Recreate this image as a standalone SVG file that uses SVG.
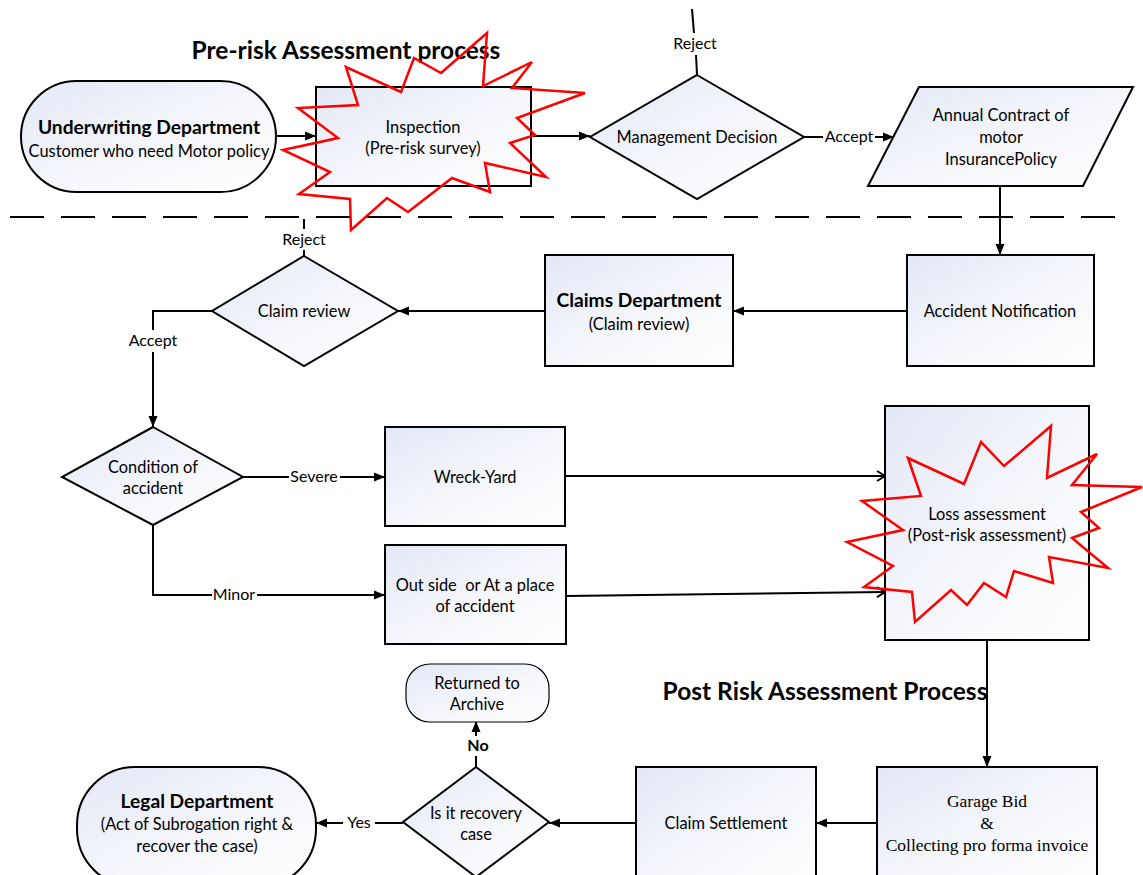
<svg xmlns="http://www.w3.org/2000/svg" width="1143" height="875" viewBox="0 0 1143 875">
  <defs>
    <linearGradient id="nodeFill" x1="0" y1="0" x2="1" y2="1">
      <stop offset="0" stop-color="#e3e8f5"/>
      <stop offset="0.6" stop-color="#f7f8fc"/>
      <stop offset="1" stop-color="#ffffff"/>
    </linearGradient>
    <marker id="arrow" markerUnits="userSpaceOnUse" markerWidth="12" markerHeight="10" refX="11" refY="5" orient="auto">
      <path d="M0,0.5 L11,5 L0,9.5 z" fill="#000"/>
    </marker>
    <marker id="openArrow" markerUnits="userSpaceOnUse" markerWidth="12" markerHeight="12" refX="10" refY="6" orient="auto">
      <path d="M2,1 L10,6 L2,11" fill="none" stroke="#000" stroke-width="2"/>
    </marker>
    <style>
      .shape { fill: url(#nodeFill); stroke: #000; stroke-width: 2; }
      .line { fill: none; stroke: #000; stroke-width: 2; }
      .star { fill: none; stroke: #ff0000; stroke-width: 2.5; stroke-linejoin: miter; }
      text { font-family: Lato, "Liberation Sans", sans-serif; font-size: 16.4px; fill: #000; text-anchor: middle; white-space: pre; }
      .bold { font-weight: bold; font-size: 19.2px; }
      .head { font-size: 24.5px; font-weight: bold; }
      .serif { font-family: "Liberation Serif", serif; font-size: 17.5px; }
      .lbl { font-size: 16px; }
      .lblb { font-size: 16px; font-weight: bold; }
    </style>
  </defs>
  <rect width="1143" height="875" fill="#fff"/>

  <!-- section divider -->
  <line x1="10" y1="217" x2="1118" y2="217" stroke="#000" stroke-width="2" stroke-dasharray="34 17"/>

  <!-- section headings -->
  <text class="head" x="346" y="59">Pre-risk Assessment process</text>
  <text class="head" x="825" y="700">Post Risk Assessment Process</text>

  <!-- connectors -->
  <g id="connectors">
    <line class="line" x1="276" y1="136" x2="316" y2="136" marker-end="url(#arrow)"/>
    <line class="line" x1="531" y1="136" x2="590" y2="136" marker-end="url(#arrow)"/>
    <!-- management decision: reject -->
    <line class="line" x1="692" y1="9" x2="694" y2="33"/>
    <line class="line" x1="696" y1="55" x2="697" y2="75"/>
    <text class="lbl" x="695" y="49">Reject</text>
    <!-- management decision: accept -->
    <line class="line" x1="804" y1="137" x2="823" y2="137"/>
    <line class="line" x1="875" y1="137" x2="894" y2="137" marker-end="url(#arrow)"/>
    <text class="lbl" x="849" y="142">Accept</text>
    <!-- policy to accident notification -->
    <line class="line" x1="1000" y1="186" x2="1000" y2="255" marker-end="url(#arrow)"/>
    <line class="line" x1="907" y1="311" x2="733" y2="311" marker-end="url(#arrow)"/>
    <line class="line" x1="545" y1="311" x2="398" y2="311" marker-end="url(#arrow)"/>
    <!-- claim review: reject -->
    <line class="line" x1="304" y1="219" x2="304" y2="229"/>
    <line class="line" x1="304" y1="250" x2="304" y2="256"/>
    <text class="lbl" x="304" y="245">Reject</text>
    <!-- claim review: accept -->
    <polyline class="line" points="212,311 153,311 153,330"/>
    <line class="line" x1="153" y1="352" x2="153" y2="427" marker-end="url(#arrow)"/>
    <text class="lbl" x="153" y="346">Accept</text>
    <!-- condition: severe / minor -->
    <line class="line" x1="243" y1="477" x2="289" y2="477"/>
    <line class="line" x1="340" y1="477" x2="385" y2="477" marker-end="url(#arrow)"/>
    <text class="lbl" x="314" y="482">Severe</text>
    <polyline class="line" points="153,525 153,595 212,595"/>
    <line class="line" x1="257" y1="595" x2="385" y2="595" marker-end="url(#arrow)"/>
    <text class="lbl" x="234" y="600">Minor</text>
    <!-- into loss assessment -->
    <line class="line" x1="565" y1="476" x2="885" y2="476" marker-end="url(#openArrow)"/>
    <line class="line" x1="566" y1="596" x2="885" y2="592" marker-end="url(#openArrow)"/>
    <line class="line" x1="987" y1="640" x2="987" y2="767" marker-end="url(#arrow)"/>
    <line class="line" x1="877" y1="823" x2="816" y2="823" marker-end="url(#arrow)"/>
    <line class="line" x1="636" y1="823" x2="549" y2="823" marker-end="url(#arrow)"/>
    <!-- recovery: no -->
    <line class="line" x1="476" y1="767" x2="476" y2="756"/>
    <line class="line" x1="476" y1="736" x2="476" y2="721" marker-end="url(#arrow)"/>
    <text class="lblb" x="478" y="751">No</text>
    <!-- recovery: yes -->
    <line class="line" x1="403" y1="823" x2="375" y2="823"/>
    <line class="line" x1="343" y1="823" x2="316" y2="823" marker-end="url(#arrow)"/>
    <text class="lbl" x="359" y="828">Yes</text>
  </g>

  <g id="underwriting">
    <rect class="shape" x="21" y="81" width="255" height="111" rx="55.5" ry="55.5"/>
    <text class="bold" x="149" y="134">Underwriting Department</text>
    <text x="149" y="157">Customer who need Motor policy</text>
  </g>

  <g id="inspection">
    <rect class="shape" x="316" y="87" width="215" height="99"/>
    <text x="423" y="133">Inspection</text>
    <text x="423" y="154">(Pre-risk survey)</text>
  </g>

  <g id="management-decision">
    <polygon class="shape" points="697,75 804,137 697,199 590,137"/>
    <text x="697" y="143">Management Decision</text>
  </g>

  <g id="annual-contract">
    <polygon class="shape" points="919,87 1133,87 1083,186 868,186"/>
    <text x="1001" y="121">Annual Contract of</text>
    <text x="1001" y="143">motor</text>
    <text x="1001" y="165">InsurancePolicy</text>
  </g>

  <g id="accident-notification">
    <rect class="shape" x="907" y="255" width="187" height="111"/>
    <text x="1000" y="317">Accident Notification</text>
  </g>

  <g id="claims-department">
    <rect class="shape" x="545" y="255" width="188" height="111"/>
    <text class="bold" x="639" y="307">Claims Department</text>
    <text x="639" y="330">(Claim review)</text>
  </g>

  <g id="claim-review">
    <polygon class="shape" points="304,256 398,311 304,366 212,311"/>
    <text x="304" y="317">Claim review</text>
  </g>

  <g id="condition-of-accident">
    <polygon class="shape" points="153,427 243,477 153,525 62,477"/>
    <text x="153" y="473">Condition of</text>
    <text x="153" y="494">accident</text>
  </g>

  <g id="wreck-yard">
    <rect class="shape" x="385" y="427" width="180" height="99"/>
    <text x="475" y="483">Wreck-Yard</text>
  </g>

  <g id="outside-place">
    <rect class="shape" x="385" y="545" width="181" height="99"/>
    <text x="475" y="591">Out side  or At a place</text>
    <text x="475" y="612">of accident</text>
  </g>

  <g id="loss-assessment">
    <rect class="shape" x="885" y="406" width="204" height="234"/>
    <text x="987" y="520">Loss assessment</text>
    <text x="987" y="541">(Post-risk assessment)</text>
  </g>

  <g id="garage-bid">
    <rect class="shape" x="877" y="767" width="220" height="120"/>
    <text class="serif" x="987" y="807">Garage Bid</text>
    <text class="serif" x="987" y="829">&amp;</text>
    <text class="serif" x="987" y="851">Collecting pro forma invoice</text>
  </g>

  <g id="claim-settlement">
    <rect class="shape" x="636" y="767" width="180" height="120"/>
    <text x="726" y="829">Claim Settlement</text>
  </g>

  <g id="recovery-case">
    <polygon class="shape" points="476,767 549,822 476,877 403,822"/>
    <text x="476" y="819">Is it recovery</text>
    <text x="476" y="840">case</text>
  </g>

  <g id="returned-archive">
    <rect class="shape" x="406" y="664" width="143" height="58" rx="24" ry="24" style="stroke-width:1.2"/>
    <text x="477" y="689">Returned to</text>
    <text x="477" y="710">Archive</text>
  </g>

  <g id="legal-department">
    <rect class="shape" x="77" y="767" width="239" height="120" rx="58" ry="58"/>
    <text class="bold" x="197" y="808">Legal Department</text>
    <text x="197" y="830">(Act of Subrogation right &amp;</text>
    <text x="197" y="852">recover the case)</text>
  </g>

  <!-- highlight bursts -->
  <polygon id="burst-inspection" class="star" points="346,67 358,105 298,108 338,138 283,150 330,172 299,194 350,199 351,230 387,198 408,212 452,178 490,192 485,163 546,177 510,143 535,135 517,118 585,93 512,88 532,62 483,86 487,33 441,73 414,58 401,92"/>
  <polygon id="burst-loss" class="star" points="908,458 964,484 981,442 1004,466 1051,426 1047,478 1097,454 1072,485 1142,487 1081,512 1099,528 1072,538 1108,568 1049,557 1053,583 1014,571 1006,597 984,583 967,605 951,590 915,622 912,592 864,587 893,566 847,542 903,530 862,501 921,496"/>
</svg>
